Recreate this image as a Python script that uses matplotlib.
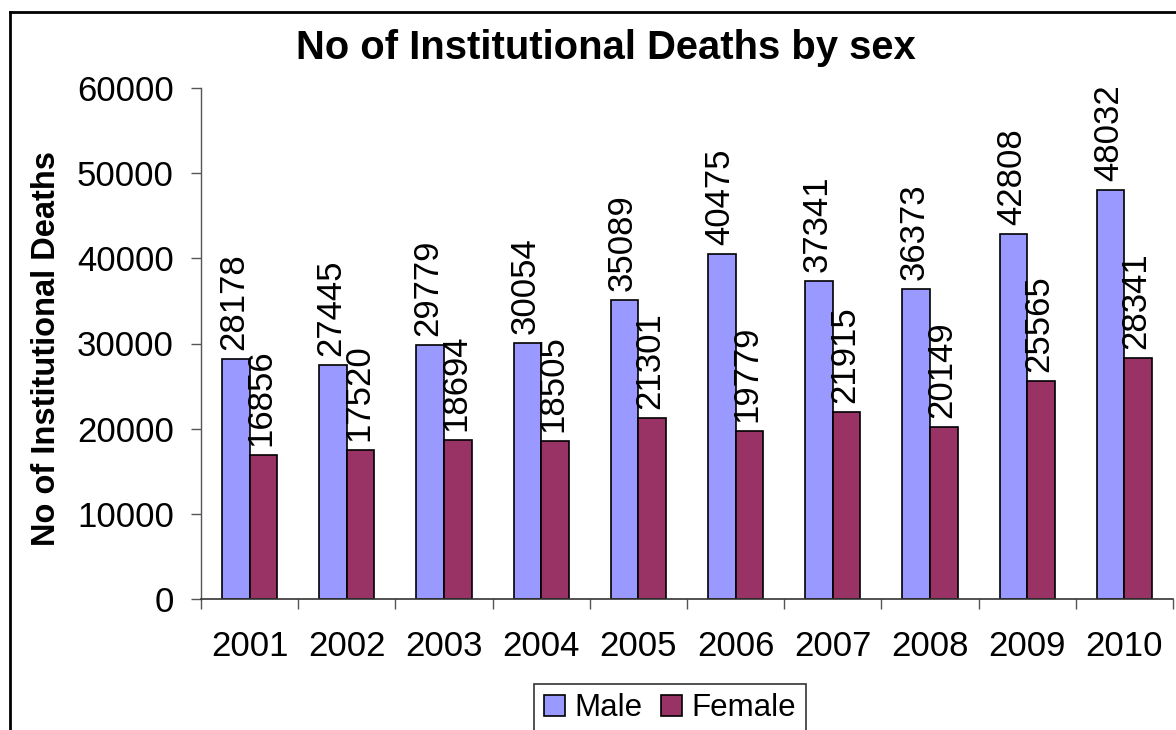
import matplotlib
matplotlib.use("Agg")
import matplotlib.pyplot as plt
import numpy as np
from matplotlib.lines import Line2D

years = ["2001", "2002", "2003", "2004", "2005", "2006", "2007", "2008", "2009", "2010"]
male = [28178, 27445, 29779, 30054, 35089, 40475, 37341, 36373, 42808, 48032]
female = [16856, 17520, 18694, 18505, 21301, 19779, 21915, 20149, 25565, 28341]
series_names = ["Male", "Female"]
colors = ["#9999FF", "#993366"]

plt.rcParams['font.family'] = ['Liberation Sans', 'DejaVu Sans']

W, H = 1176, 730
fig = plt.figure(figsize=(W / 100, H / 100), dpi=100)
ax = fig.add_axes([201 / W, 1 - 599 / H, (1173 - 201) / W, (599 - 88) / H])

x = np.arange(len(years))
bw = 0.283
b1 = ax.bar(x - bw / 2, male, bw, color=colors[0], edgecolor="black", linewidth=1.2, label=series_names[0])
b2 = ax.bar(x + bw / 2, female, bw, color=colors[1], edgecolor="black", linewidth=1.2, label=series_names[1])

for bars, vals in ((b1, male), (b2, female)):
    for rect, v in zip(bars, vals):
        ax.annotate(str(v), (rect.get_x() + rect.get_width() / 2, v),
                    xytext=(-1.5, 6.5), textcoords="offset points",
                    rotation=90, ha="center", va="bottom", fontsize=25)

ax.set_xlim(-0.5, len(years) - 0.5)
ax.set_ylim(0, 60000)
ax.set_yticks(np.arange(0, 60001, 10000))
ax.set_yticklabels([str(v) for v in range(0, 60001, 10000)], fontsize=25)
ax.set_xticks(np.arange(len(years) + 1) - 0.5)
ax.set_xticklabels([])
ax.set_xticks(x, minor=True)
ax.set_xticklabels(years, minor=True, fontsize=25)
ax.tick_params(axis="x", which="major", direction="out", length=7.5, width=1, color="#555555")
ax.tick_params(axis="x", which="minor", length=0, pad=22)
ax.tick_params(axis="y", direction="out", length=7.5, width=1, color="#555555", pad=12)

for s in ("top", "right"):
    ax.spines[s].set_visible(False)
ax.spines["left"].set_color("#555555")
ax.spines["bottom"].set_color("#333333")
ax.spines["left"].set_linewidth(1)
ax.spines["bottom"].set_linewidth(1.2)

ax.set_ylabel("No of Institutional Deaths", fontsize=23.5, fontweight="bold")
ax.yaxis.set_label_coords(47 / W, 1 - 349 / H, transform=fig.transFigure)
ax.yaxis.label.set_va("center")

fig.text(606 / W, 1 - 48 / H, "No of Institutional Deaths by sex", fontsize=28.8,
         fontweight="bold", ha="center", va="center")

leg = fig.legend(handles=[b1, b2], labels=series_names, loc="upper center",
                 bbox_to_anchor=(670 / W, 1 - 684 / H), ncol=2, fontsize=22.5,
                 frameon=True, fancybox=False, edgecolor="black", borderpad=0.3,
                 handlelength=0.68, handleheight=0.68, handletextpad=0.3,
                 columnspacing=0.6, borderaxespad=0)
leg.get_frame().set_linewidth(1.2)

# figure border (chart area frame, partially cropped)
fig.add_artist(Line2D([10 / W, 10 / W], [1 - 12 / H, -0.1], transform=fig.transFigure,
                      color="black", linewidth=2))
fig.add_artist(Line2D([10 / W, 1.1], [1 - 12 / H, 1 - 12 / H], transform=fig.transFigure,
                      color="black", linewidth=2))

fig.savefig("out.png", dpi=100)
